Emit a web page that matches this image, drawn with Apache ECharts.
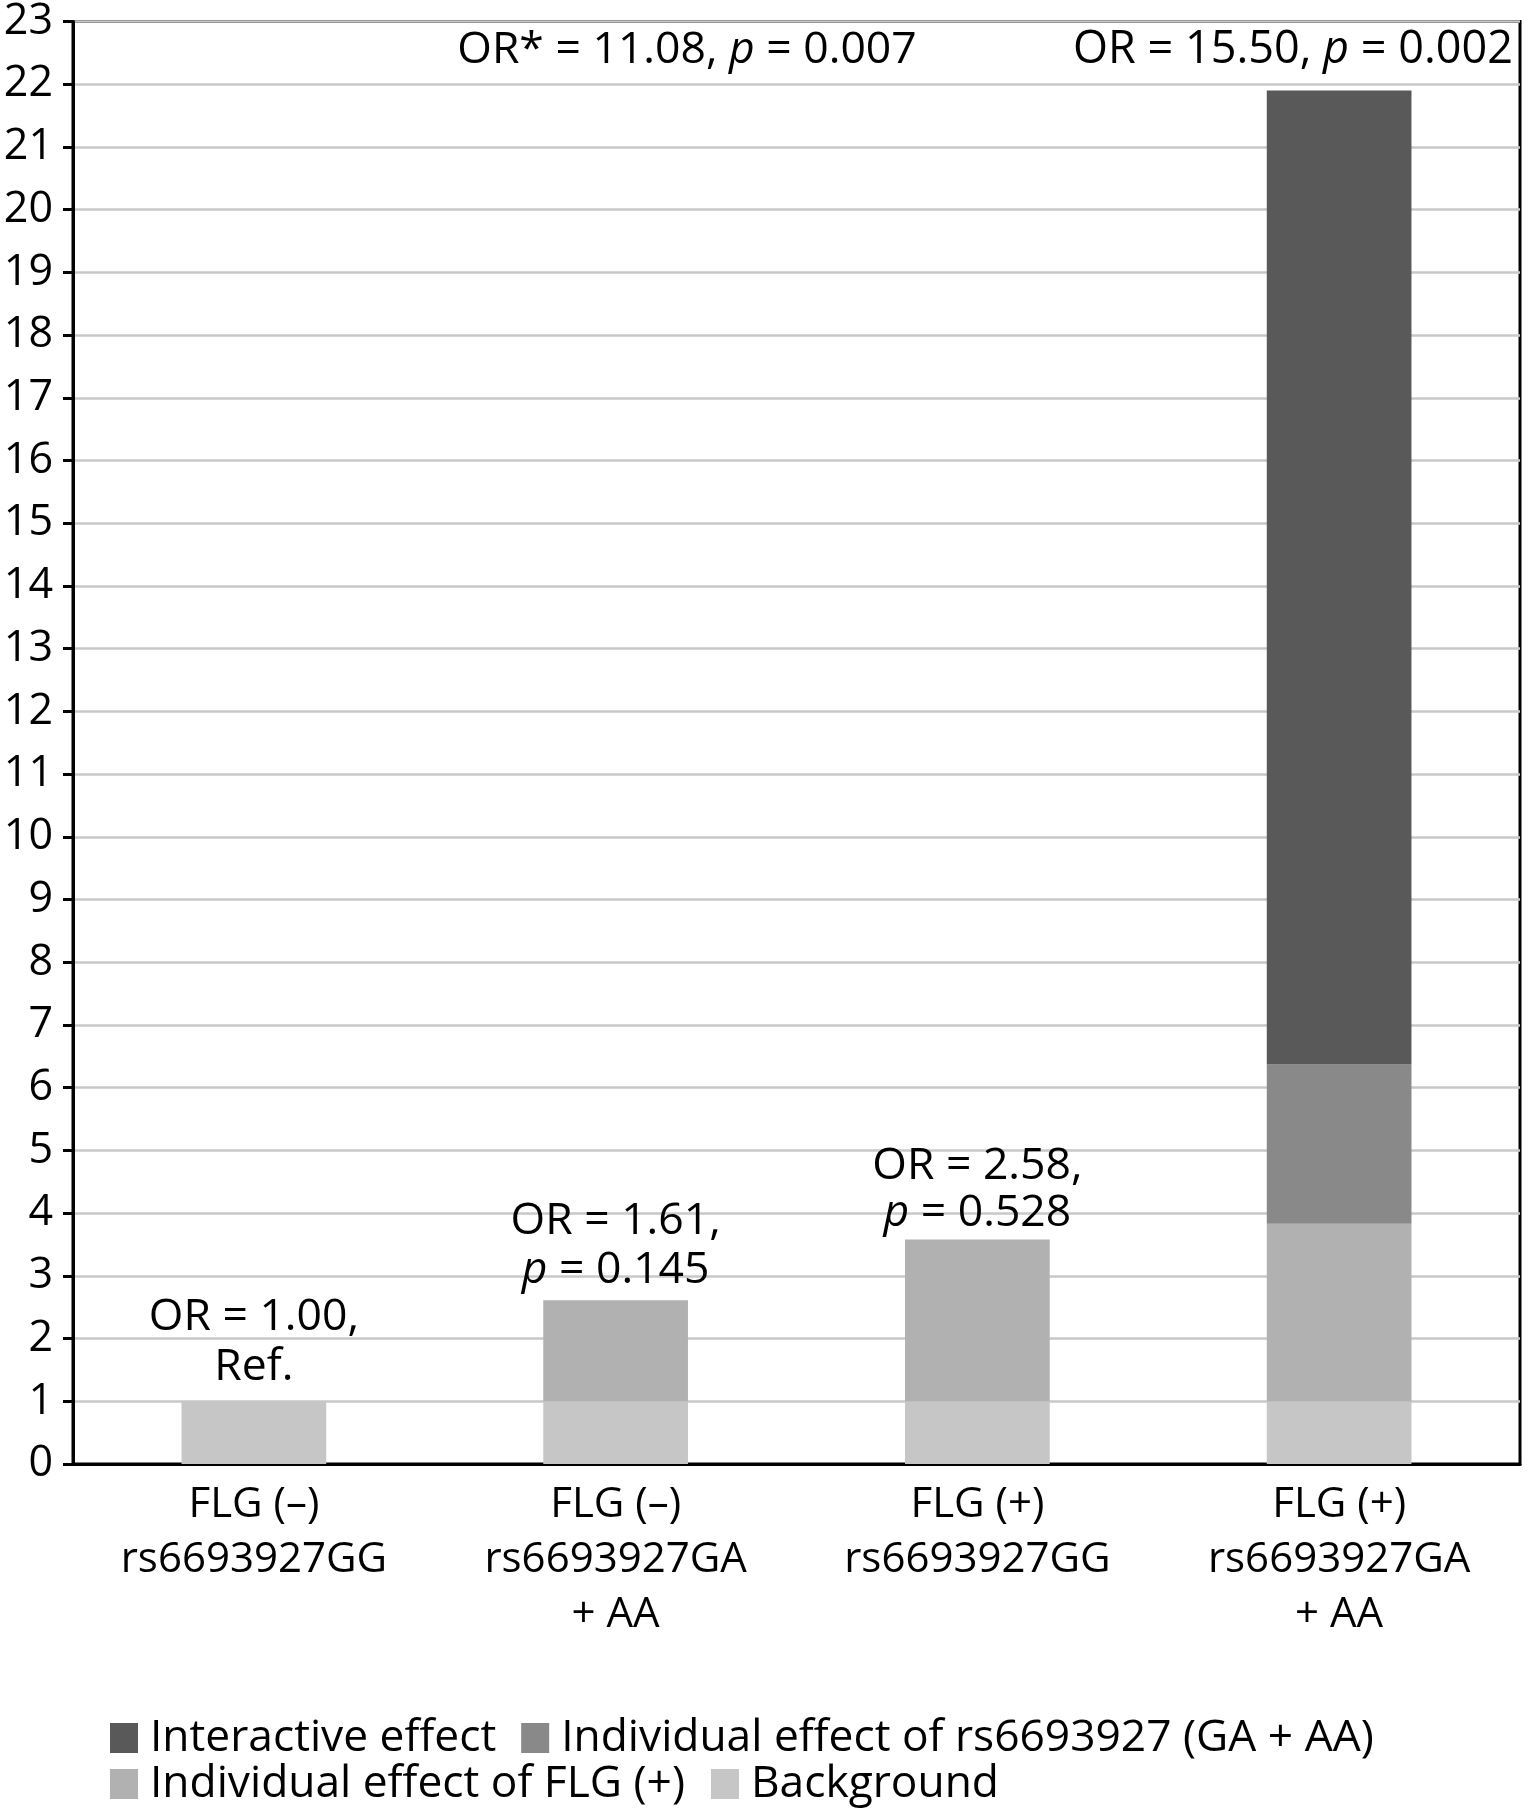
<!DOCTYPE html>
<html><head><meta charset="utf-8">
<script src="https://cdn.jsdelivr.net/npm/echarts@6/dist/echarts.min.js"></script>
<style>html,body{margin:0;padding:0;background:#fff}#c{width:1528px;height:1809px}</style>
</head><body><div id="c"></div>
<script>
// ---- data ----
const categories = [
  'FLG (–)\nrs6693927GG',
  'FLG (–)\nrs6693927GA\n+ AA',
  'FLG (+)\nrs6693927GG',
  'FLG (+)\nrs6693927GA\n+ AA'
];
const seriesNames = ['Background', 'Individual effect of FLG (+)', 'Individual effect of rs6693927 (GA + AA)', 'Interactive effect'];
const background = [1, 1, 1, 1];
const flgEffect = [0, 1.61, 2.58, 2.83];
const rsEffect = [0, 0, 0, 2.54];
const interactive = [0, 0, 0, 15.53];
const yMin = 0, yMax = 23, yStep = 1;
const barLabels = [
  ['OR = 1.00,', 'Ref.'],
  ['OR = 1.61,', 'p = 0.145'],
  ['OR = 2.58,', 'p = 0.528'],
  null
];
const topNotes = ['OR* = 11.08, p = 0.007', 'OR = 15.50, p = 0.002'];

// ---- styles ----
const colors = ['#c6c6c6', '#b1b1b1', '#898989', '#595959'];
const FONT = 'Open Sans';
const labelDist = [9, 6, 3, 0];
const labelLH = [50, 48.5, 46.5, 50];

function richText(str) {
  return str.split(/(\bp\b)/).filter(s => s.length).map(s => s === 'p' ? '{i|p}' : '{n|' + s + '}').join('');
}
function makeRich(fs, lh) {
  return {
    n: { fontFamily: FONT, fontSize: fs, color: '#000', lineHeight: lh },
    i: { fontFamily: FONT, fontSize: fs, color: '#000', fontStyle: 'italic', lineHeight: lh }
  };
}

const allValues = [background, flgEffect, rsEffect, interactive];
const series = allValues.map((vals, si) => ({
  name: seriesNames[si],
  type: 'bar',
  stack: 'or',
  barWidth: '40%',
  itemStyle: { color: colors[si] },
  emphasis: { disabled: true },
  data: vals.map((v, ci) => {
    let topIdx = 0;
    allValues.forEach((arr, k) => { if (arr[ci] > 0) topIdx = k; });
    if (topIdx === si && barLabels[ci]) {
      return {
        value: v,
        label: {
          show: true, position: 'top', distance: labelDist[ci],
          formatter: barLabels[ci].map(richText).join('\n'),
          rich: makeRich(44.5, labelLH[ci])
        }
      };
    }
    return v;
  })
}));

const legendText = { fontFamily: FONT, fontSize: 44.3, color: '#000', lineHeight: 30, padding: [0, 0, 0, 7] };

const chart = echarts.init(document.getElementById('c'), null, { renderer: 'canvas' });
chart.setOption({
  animation: false,
  backgroundColor: '#fff',
  textStyle: { fontFamily: FONT },
  grid: { left: 73, right: 8, top: 17, bottom: 345, show: true, borderColor: '#000', borderWidth: 3, containLabel: false },
  xAxis: {
    type: 'category',
    data: categories,
    axisTick: { show: false },
    axisLine: { lineStyle: { color: '#000', width: 3 } },
    axisLabel: { fontFamily: FONT, fontSize: 42, color: '#000', lineHeight: 55, margin: 14, interval: 0 }
  },
  yAxis: {
    type: 'value',
    min: yMin, max: yMax, interval: yStep,
    axisLine: { show: true, lineStyle: { color: '#000', width: 3 } },
    axisTick: { show: true, length: 10, lineStyle: { color: '#000', width: 3 } },
    axisLabel: { fontFamily: FONT, fontSize: 43, color: '#000', margin: 20 },
    splitLine: { lineStyle: { color: '#c8c8c8', width: 2.5 } }
  },
  legend: [
    {
      data: [seriesNames[3], seriesNames[2]],
      left: 110, top: 1716, padding: 0,
      icon: 'rect', itemWidth: 28, itemHeight: 30, itemGap: 25,
      selectedMode: false,
      textStyle: legendText
    },
    {
      data: [seriesNames[1], seriesNames[0]],
      left: 110, top: 1762, padding: 0,
      icon: 'rect', itemWidth: 28, itemHeight: 30, itemGap: 26,
      selectedMode: false,
      textStyle: legendText
    }
  ],
  graphic: [
    { type: 'text', x: 687, y: 50, style: { text: richText(topNotes[0]), rich: makeRich(44.5, 50), align: 'center', verticalAlign: 'middle' } },
    { type: 'text', x: 1293, y: 50, style: { text: richText(topNotes[1]), rich: makeRich(45, 50), align: 'center', verticalAlign: 'middle' } }
  ],
  series: series
});
</script>
</body></html>
